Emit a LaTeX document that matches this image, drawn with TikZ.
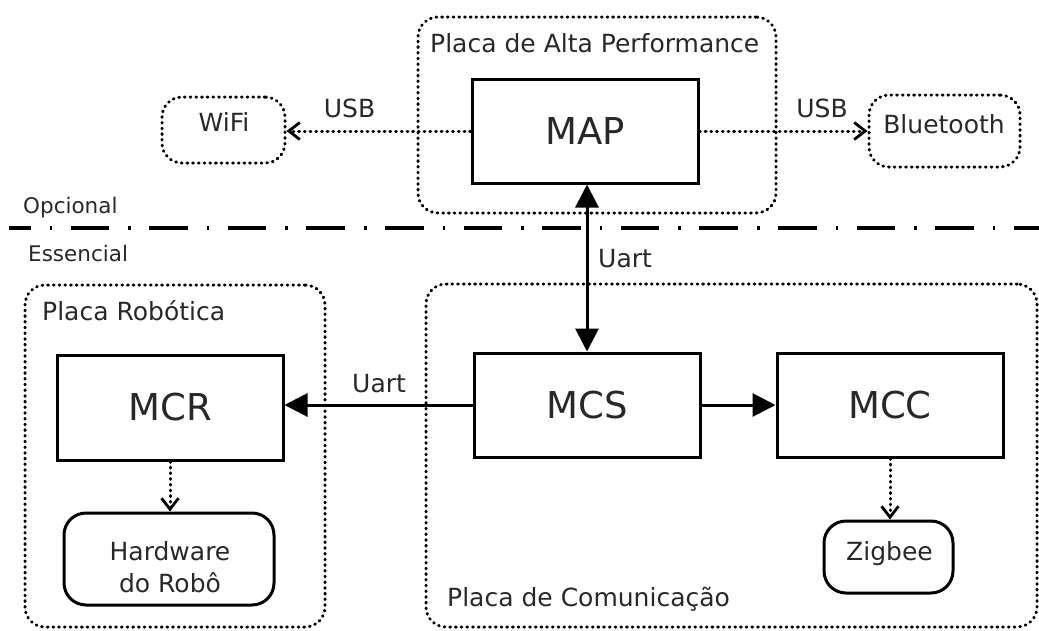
\documentclass[tikz,border=0pt]{standalone}
\usepackage{fontspec}
\setmainfont{DejaVu Sans}
\usetikzlibrary{arrows.meta}
\definecolor{txt}{RGB}{40,40,40}
\begin{document}
\begin{tikzpicture}[x=1pt,y=-1pt,
  mbox/.style={draw, line width=3pt, inner sep=0pt, text=txt,
    minimum width=226pt, minimum height=104pt, font=\fontsize{37}{44}\selectfont},
  softbox/.style={draw, line width=3pt, rounded corners=22pt, inner sep=0pt},
  dotpat/.style={dash pattern=on 0.8pt off 4.9pt, line cap=round},
  dotbox/.style={draw, line width=3pt, dotpat, rounded corners=20pt, inner sep=0pt},
  lbl/.style={inner sep=0pt, text=txt, font=\fontsize{25}{30}\selectfont},
  small/.style={inner sep=0pt, text=txt, font=\fontsize{21.5}{26}\selectfont},
  solidarrow/.style={line width=3pt, -{Triangle[length=23pt,width=23pt]}},
  dotarrow/.style={line width=3pt, dotpat, -{Straight Barb[length=11pt,width=17pt,line width=2.8pt]}},
]
\useasboundingbox (0,0) rectangle (1039,630);

% group boxes
\node[dotbox, minimum width=358pt, minimum height=196pt] (pap) at (597,115) {};
\node[dotbox, minimum width=300pt, minimum height=342pt] (rob) at (175,456) {};
\node[dotbox, minimum width=611pt, minimum height=343pt] (com) at (731.5,455.5) {};

% optional peripherals
\node[dotbox, minimum width=123pt, minimum height=66pt] (wifi) at (223.5,130) {};
\node[dotbox, minimum width=151pt, minimum height=72pt] (bt) at (944.5,131) {};
\node[lbl, anchor=base] (wifiT) at (224,131) {WiFi};
\node[lbl, anchor=base] (btT) at (944,133) {Bluetooth};

% main blocks
\node[mbox] (MAP) at (585,131) {MAP};
\node[mbox] (MCS) at (587,405) {MCS};
\node[mbox, minimum height=105pt] (MCR) at (170,407.5) {MCR};
\node[mbox] (MCC) at (890,405) {MCC};

% end devices
\node[softbox, minimum width=210pt, minimum height=92pt] (hw) at (169,559) {};
\node[lbl, align=center, font=\fontsize{25}{32}\selectfont] (hwT) at (170,567.5) {Hardware\\do Robô};
\node[softbox, minimum width=129pt, minimum height=72pt] (zig) at (888.5,557) {};
\node[lbl, anchor=base] (zigT) at (889.5,560) {Zigbee};

% group labels
\node[lbl, anchor=base west] (papT) at (430,52) {Placa de Alta Performance};
\node[lbl, anchor=base west] (robT) at (42,320) {Placa Robótica};
\node[lbl, anchor=base west] (comT) at (447,606) {Placa de Comunicação};

% separator
\coordinate (dl) at (9,228);
\coordinate (dr) at (1039,228);
\draw[line width=3.5pt, dash pattern=on 38.6pt off 19pt on 2.5pt off 18.5pt, dash phase=17pt] (dl) -- (dr);
\node[small, anchor=base west] (opc) at (23,213) {Opcional};
\node[small, anchor=base west] (ess) at (28,261) {Essencial};

% connectors
\draw[dotarrow] (MAP.west) -- (MAP.west -| wifi.east);
\draw[dotarrow] (MAP.east) -- (MAP.east -| bt.west);
\node[lbl, anchor=base] (usbL) at (349.5,117) {USB};
\node[lbl, anchor=base] (usbR) at (822,117) {USB};

\draw[line width=3pt, {Triangle[length=23pt,width=23pt]}-{Triangle[length=23pt,width=23pt]}] (MCS.north) -- (MCS.north |- MAP.south);
\node[lbl, anchor=base west] (uartV) at (598,267) {Uart};

\draw[solidarrow] (MCS.west) -- (MCS.west -| MCR.east);
\node[lbl, anchor=base west] (uartH) at (352,392) {Uart};
\draw[solidarrow] (MCS.east) -- (MCC.west);

\draw[dotarrow] (MCR.south) -- (MCR.south |- hw.north);
\draw[dotarrow] (MCC.south) -- (MCC.south |- zig.north);
\end{tikzpicture}
\end{document}
